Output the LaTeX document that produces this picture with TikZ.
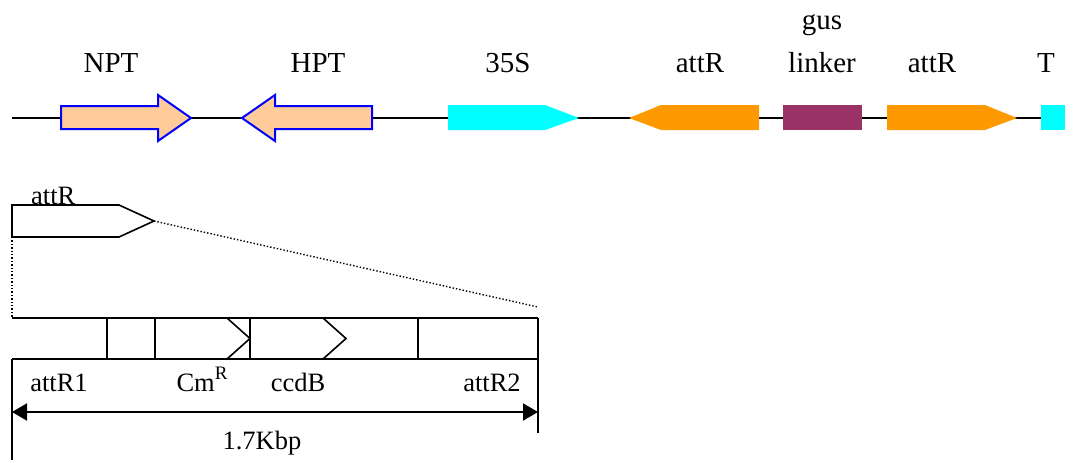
\documentclass[tikz,border=0pt]{standalone}
\usepackage{fontspec}
\setmainfont{Liberation Serif}
\usetikzlibrary{arrows.meta}
\definecolor{peach}{HTML}{FFCC99}
\definecolor{markerblue}{HTML}{0000FF}
\definecolor{promcyan}{HTML}{00FFFF}
\definecolor{attorange}{HTML}{FF9900}
\definecolor{linkerpurple}{HTML}{993366}
\tikzset{
  toplabel/.style={anchor=base, inner sep=0pt, font=\fontsize{29}{34}\selectfont},
  botlabel/.style={anchor=base, inner sep=0pt, font=\fontsize{26.5}{31}\selectfont},
  backbone/.style={line width=2pt, black},
  marker/.style={draw=markerblue, fill=peach, line width=2pt, line join=miter},
  outline/.style={draw=black, line width=1.6pt, line join=miter},
  zoomline/.style={line width=1.4pt, dotted},
  dimline/.style={line width=2pt, {Triangle[length=15pt,width=17pt]}-{Triangle[length=15pt,width=17pt]}}
}
\begin{document}
\begin{tikzpicture}[x=1pt, y=-1pt]
\useasboundingbox (0,0) rectangle (1065,459);

% ---- cassette backbone ----
\coordinate (bb-start) at (12,118);
\coordinate (bb-end) at (1041,118);
\draw[backbone] (bb-start) -- (bb-end);

% NPT marker (forward)
\draw[marker] (61,106) -- (158,106) -- (158,95) -- (191,118) -- (158,141) -- (158,129) -- (61,129) -- cycle;
% HPT marker (reverse)
\draw[marker] (372,106) -- (275,106) -- (275,95) -- (242,118) -- (275,141) -- (275,129) -- (372,129) -- cycle;
% 35S promoter
\fill[promcyan] (448,105) -- (545,105) -- (579,118) -- (545,130) -- (448,130) -- cycle;
% attR (reverse)
\fill[attorange] (759,105) -- (661,105) -- (629,118) -- (661,130) -- (759,130) -- cycle;
% gus linker
\fill[linkerpurple] (783,105) rectangle (862,130);
% attR (forward)
\fill[attorange] (887,105) -- (985,105) -- (1017,118) -- (985,130) -- (887,130) -- cycle;
% terminator
\fill[promcyan] (1041,105) rectangle (1066,130);

% top labels
\node[toplabel] (lab-npt) at (111,72) {NPT};
\node[toplabel] (lab-hpt) at (318,72) {HPT};
\node[toplabel] (lab-35s) at (508,72) {35S};
\node[toplabel] (lab-attr-a) at (700,72) {attR};
\node[toplabel] (lab-gus) at (822,29) {gus};
\node[toplabel] (lab-linker) at (822,72) {linker};
\node[toplabel] (lab-attr-b) at (932,72) {attR};
\node[toplabel] (lab-t) at (1046,72) {T};

% ---- enlarged attR ----
\coordinate (s-tl) at (12,205);
\coordinate (s-tip) at (154,221);
\coordinate (s-bl) at (12,237);
\draw[outline] (s-tl) -- (119,205) -- (s-tip) -- (119,237) -- (s-bl) -- cycle;
\node[botlabel, anchor=base west] (lab-attr-s) at (31,204) {attR};

\coordinate (big-tl) at (12,318);
\coordinate (big-tr) at (538,318);
\coordinate (zoom-r) at (538,307);
\draw[zoomline] (s-tip) -- (zoom-r);
\draw[zoomline] (s-bl) -- (big-tl);

% segment map
\draw[outline] (big-tl) -- (big-tr);
\draw[outline] (12,359) -- (538,359);
\draw[outline] (107,318) -- (107,359);
\draw[outline] (155,318) -- (155,359);
\draw[outline] (250,318) -- (250,359);
\draw[outline] (418,318) -- (418,359);
\draw[outline] (227,318) -- (250,338.5) -- (227,359);
\draw[outline] (323,318) -- (346,338.5) -- (323,359);
\draw[outline] (big-tr) -- (538,433);
\draw[outline] (12,359) -- (12,460);

% size bar
\coordinate (dim-l) at (12,412);
\coordinate (dim-r) at (538,412);
\draw[dimline] (dim-l) -- (dim-r);

% bottom labels
\node[botlabel] (lab-attr1) at (59,391) {attR1};
\node[botlabel] (lab-cm) at (202,391) {Cm\raisebox{0.42em}{\fontsize{19}{21}\selectfont R}};
\node[botlabel] (lab-ccdb) at (298,391) {ccdB};
\node[botlabel] (lab-attr2) at (492,391) {attR2};
\node[botlabel] (lab-size) at (262,449) {1.7Kbp};
\end{tikzpicture}
\end{document}
